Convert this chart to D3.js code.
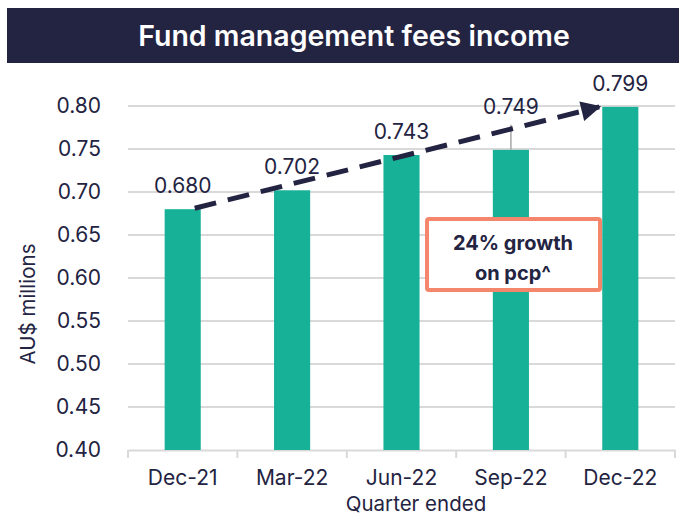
<!DOCTYPE html>
<html>
<head>
<meta charset="utf-8">
<script src="https://cdn.jsdelivr.net/npm/d3@7"></script>
<style>
  body { margin: 0; background: #fff; }
  text { font-family: Inter, "Open Sans", sans-serif; fill: #232342; }
</style>
</head>
<body>
<div id="chart"></div>
<script>
// data
var quarters = ['Dec-21', 'Mar-22', 'Jun-22', 'Sep-22', 'Dec-22'];
var fees = [0.680, 0.702, 0.743, 0.749, 0.799];
var yTicks = [0.40, 0.45, 0.50, 0.55, 0.60, 0.65, 0.70, 0.75, 0.80];
var growthText = ['24% growth', 'on pcp^'];

var width = 679, height = 519;
var navy = '#232342', teal = '#17b197';

var svg = d3.select('#chart')
	.append('svg')
	.attr('width', width)
	.attr('height', height);

// title bar
svg.append('rect')
	.attr('x', 7)
	.attr('y', 8)
	.attr('width', width - 7)
	.attr('height', 55)
	.style('fill', navy);

svg.append('text')
	.attr('x', 354)
	.attr('y', 36)
	.attr('dy', '.35em')
	.style('text-anchor', 'middle')
	.style('fill', '#fff')
	.style('font-weight', 600)
	.style('font-size', '28.5px')
	.text('Fund management fees income');

// scales
var x = d3.scaleBand()
	.domain(quarters)
	.range([128, 675])
	.paddingInner(0.67)
	.paddingOuter(0.335);

var y = d3.scaleLinear()
	.domain([0.40, 0.80])
	.range([450, 106]);

// gridlines
svg.append('g')
	.selectAll('line')
	.data(yTicks.slice(1))
	.enter().append('line')
	.attr('x1', 128)
	.attr('x2', 675)
	.attr('y1', function(d){ return y(d); })
	.attr('y2', function(d){ return y(d); })
	.style('stroke', '#d9d9d9')
	.style('stroke-width', 2);

// y axis
var yAxis = svg.append('g')
	.attr('transform', 'translate(128,0)')
	.call(d3.axisLeft(y).tickValues(yTicks).tickFormat(d3.format('.2f')).tickSize(0).tickPadding(27));
yAxis.select('.domain').remove();
yAxis.selectAll('text')
	.style('font-size', '21px')
	.style('fill', navy);

// x axis
var xAxis = svg.append('g')
	.attr('transform', 'translate(0,450)')
	.call(d3.axisBottom(x).tickSize(0).tickPadding(20));
xAxis.select('.domain')
	.style('stroke', '#d9d9d9')
	.style('stroke-width', 2);
xAxis.selectAll('text')
	.style('font-size', '21px')
	.style('fill', navy);

// tick marks between categories
var step = x.step();
svg.append('g')
	.selectAll('line')
	.data(d3.range(quarters.length + 1))
	.enter().append('line')
	.attr('x1', function(d){ return 128 + d * step; })
	.attr('x2', function(d){ return 128 + d * step; })
	.attr('y1', 450)
	.attr('y2', 458)
	.style('stroke', '#d9d9d9')
	.style('stroke-width', 2);

// bars
svg.append('g')
	.selectAll('rect')
	.data(fees)
	.enter().append('rect')
	.attr('x', function(d,i){ return x(quarters[i]); })
	.attr('y', function(d){ return y(d); })
	.attr('width', x.bandwidth())
	.attr('height', function(d){ return y(0.40) - y(d); })
	.style('fill', teal);

// value labels (Sep-22 lifted with a leader line)
var lift = [0, 0, 0, 20, 0];
svg.append('g')
	.selectAll('text')
	.data(fees)
	.enter().append('text')
	.attr('x', function(d,i){ return x(quarters[i]) + x.bandwidth() / 2; })
	.attr('y', function(d,i){ return y(d) - 16 - lift[i]; })
	.style('text-anchor', 'middle')
	.style('font-size', '21px')
	.text(function(d){ return d3.format('.3f')(d); });

svg.append('line')
	.attr('x1', x('Sep-22') + x.bandwidth() / 2)
	.attr('x2', x('Sep-22') + x.bandwidth() / 2)
	.attr('y1', y(fees[3]) - 25)
	.attr('y2', y(fees[3]))
	.style('stroke', '#a6a6a6')
	.style('stroke-width', 1.5);

// dashed growth arrow
svg.append('defs').append('marker')
	.attr('id', 'head')
	.attr('viewBox', '0 0 10 10')
	.attr('refX', 9)
	.attr('refY', 5)
	.attr('markerWidth', 4.5)
	.attr('markerHeight', 4)
	.attr('markerUnits', 'strokeWidth')
	.attr('orient', 'auto')
	.append('path')
	.attr('d', 'M0,0 L10,5 L0,10 Z')
	.style('fill', navy);

svg.append('line')
	.attr('x1', x('Dec-21') + x.bandwidth() - 6)
	.attr('y1', y(fees[0]) - 1)
	.attr('x2', x('Dec-22') - 3)
	.attr('y2', y(fees[4]))
	.style('stroke', navy)
	.style('stroke-width', 5)
	.style('stroke-dasharray', '22,12')
	.attr('marker-end', 'url(#head)');

// annotation box
svg.append('rect')
	.attr('x', 427)
	.attr('y', 219)
	.attr('width', 173)
	.attr('height', 71)
	.attr('rx', 2)
	.style('fill', '#fff')
	.style('stroke', '#f4876b')
	.style('stroke-width', 4);

svg.append('g')
	.selectAll('text')
	.data(growthText)
	.enter().append('text')
	.attr('x', 513)
	.attr('y', function(d,i){ return 243 + i * 30; })
	.attr('dy', '.35em')
	.style('text-anchor', 'middle')
	.style('font-size', '20px')
	.style('font-weight', 'bold')
	.text(function(d){ return d; });

// axis titles
svg.append('text')
	.attr('transform', 'translate(28,304) rotate(-90)')
	.attr('dy', '.35em')
	.style('text-anchor', 'middle')
	.style('font-size', '20.5px')
	.text('AU$ millions');

svg.append('text')
	.attr('x', 416)
	.attr('y', 511)
	.style('text-anchor', 'middle')
	.style('font-size', '20.5px')
	.text('Quarter ended');
</script>
</body>
</html>
